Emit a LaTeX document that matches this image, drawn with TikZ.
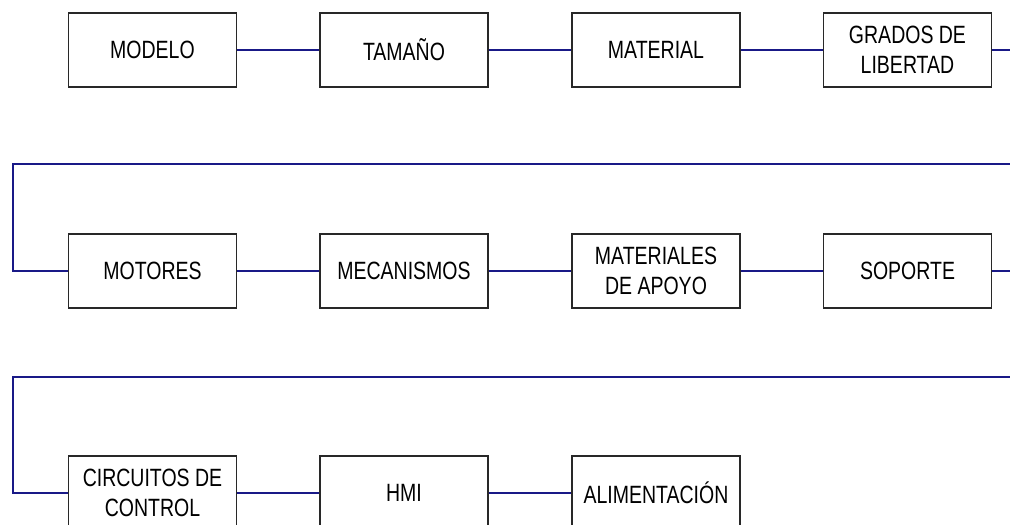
\documentclass[tikz,border=0pt]{standalone}
\usepackage{fontspec}
\setmainfont{Liberation Sans}[FakeStretch=0.78]
\definecolor{wire}{RGB}{25,25,135}
\definecolor{edge}{RGB}{40,40,40}
\begin{document}
\begin{tikzpicture}[x=1pt,y=-1pt,
  blk/.style={draw=edge,line width=1.1pt,fill=white,minimum width=168pt,minimum height=74pt,inner sep=0pt,align=center,font=\fontsize{25}{30}\selectfont},
  wr/.style={draw=wire,line width=1.2pt}]
\useasboundingbox (0,0) rectangle (1010,525);
\clip (0,0) rectangle (1010,525);
\fill[white] (0,0) rectangle (1010,525);
% row 1
\node[blk] (modelo) at (152.5,50) {MODELO};
\node[blk] (tamano) at (404,50) {TAMAÑO};
\node[blk] (material) at (656,50) {MATERIAL};
\node[blk] (grados) at (907.5,50) {GRADOS DE\\LIBERTAD};
% row 2
\node[blk] (motores) at (152.5,271) {MOTORES};
\node[blk] (mecanismos) at (404,271) {MECANISMOS};
\node[blk] (matapoyo) at (656,271) {MATERIALES\\DE APOYO};
\node[blk] (soporte) at (907.5,271) {SOPORTE};
% row 3
\node[blk] (circuitos) at (152.5,493) {CIRCUITOS DE\\CONTROL};
\node[blk] (hmi) at (404,493) {HMI};
\node[blk] (alim) at (656,493) {ALIMENTACIÓN};
% coordinates
\coordinate (r1out) at (1010,50);
\coordinate (r2in) at (1010,164);
\coordinate (r2c) at (13,164);
\coordinate (r2d) at (13,271);
\coordinate (r2out) at (1010,271);
\coordinate (r3in) at (1010,377);
\coordinate (r3c) at (13,377);
\coordinate (r3d) at (13,493);
% wires
\draw[wr] (modelo) -- (tamano);
\draw[wr] (tamano) -- (material);
\draw[wr] (material) -- (grados);
\draw[wr] (grados) -- (r1out);
\draw[wr] (r2in) -- (r2c) -- (r2d) -- (motores);
\draw[wr] (motores) -- (mecanismos);
\draw[wr] (mecanismos) -- (matapoyo);
\draw[wr] (matapoyo) -- (soporte);
\draw[wr] (soporte) -- (r2out);
\draw[wr] (r3in) -- (r3c) -- (r3d) -- (circuitos);
\draw[wr] (circuitos) -- (hmi);
\draw[wr] (hmi) -- (alim);
\end{tikzpicture}
\end{document}
